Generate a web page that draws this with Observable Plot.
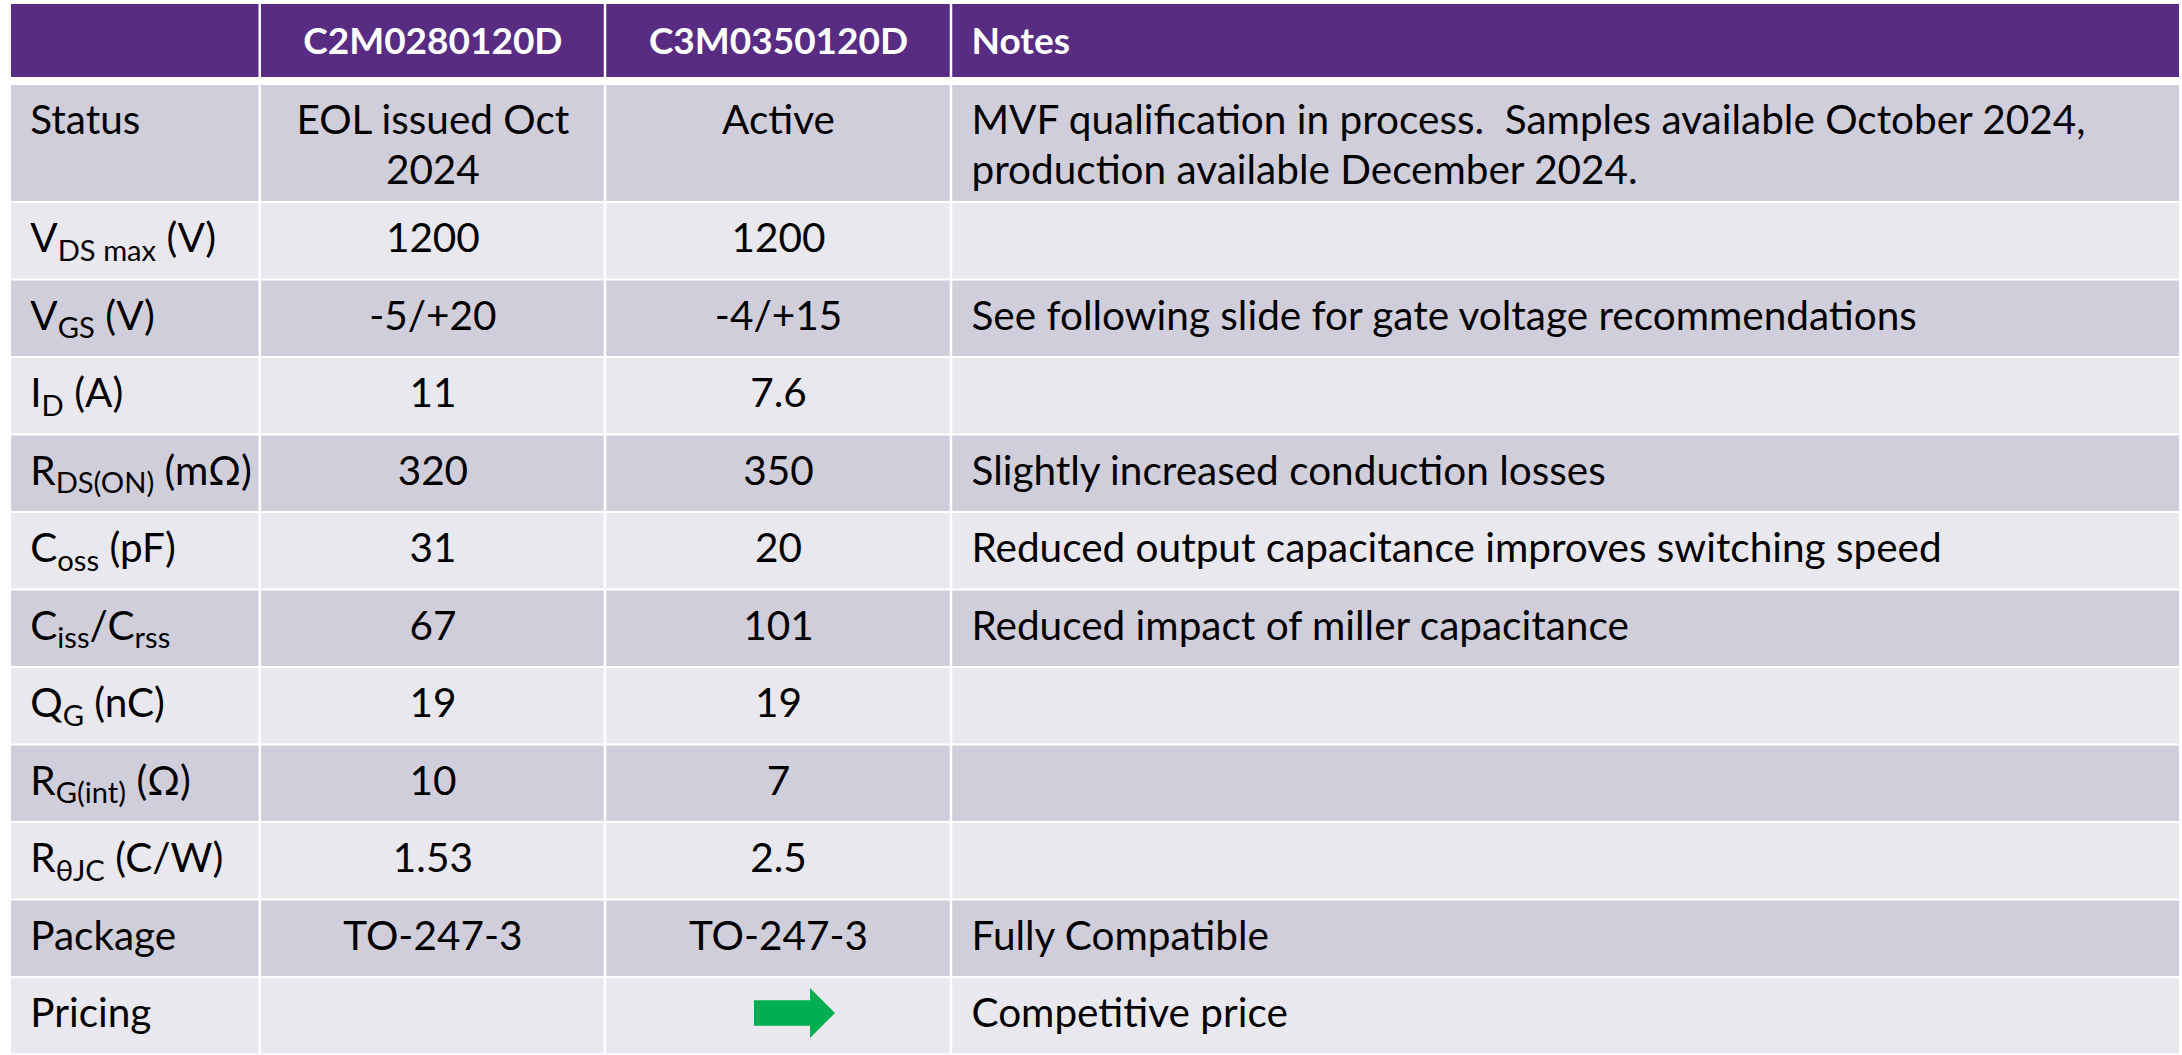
<!DOCTYPE html>
<html>
<head>
<meta charset="utf-8">
<script src="https://cdn.jsdelivr.net/npm/d3@7"></script>
<script src="https://cdn.jsdelivr.net/npm/@observablehq/plot@0.6"></script>
<style>
  html, body { margin: 0; padding: 0; background: #ffffff; overflow: hidden; }
  svg text { white-space: pre; }
</style>
</head>
<body>
<div id="chart"></div>
<script>
// ---------------- data ----------------
const columns = ["", "C2M0280120D", "C3M0350120D", "Notes"];
const parameters = [
  "Status",
  "V_{DS max} (V)",
  "V_{GS} (V)",
  "I_{D} (A)",
  "R_{DS(ON)} (mΩ)",
  "C_{oss} (pF)",
  "C_{iss}/C_{rss}",
  "Q_{G} (nC)",
  "R_{G(int)} (Ω)",
  "R_{θJC} (C/W)",
  "Package",
  "Pricing"
];
const c2mValues = ["EOL issued Oct\n2024", "1200", "-5/+20", "11", "320", "31", "67", "19", "10", "1.53", "TO-247-3", ""];
const c3mValues = ["Active", "1200", "-4/+15", "7.6", "350", "20", "101", "19", "7", "2.5", "TO-247-3", ""];
const notes = [
  "MVF qualification in process.  Samples available October 2024,\nproduction available December 2024.",
  "",
  "See following slide for gate voltage recommendations",
  "",
  "Slightly increased conduction losses",
  "Reduced output capacitance improves switching speed",
  "Reduced impact of miller capacitance",
  "",
  "",
  "",
  "Fully Compatible",
  "Competitive price"
];
const arrowRows = ["Pricing"]; // C3M0350120D pricing indicator (green arrow)

// ---------------- layout & style ----------------
const W = 2182, H = 1055;
const colEdges = [9.75, 259.75, 605, 951, 2180.25];
const colAlign = ["start", "middle", "middle", "start"];
const headerTop = 4, headerBottom = 77, bodyTop = 85;
const baseRow = 77.5, extraLine = 40.5, lineGap = 50;
const FS = 40.5, HFS = 37, PAD = 20, BASE = 48.5, HEADBASE = 53;
const SUB = 0.72, SUBDY = 8.5;
const FONT = "Lato";
const purple = "#572C82", darkRow = "#D1CEDB", lightRow = "#E9E8EE", arrowGreen = "#00B050";

const columnValues = [parameters, c2mValues, c3mValues, notes];
const nLines = (i) => Math.max(...columnValues.map(v => v[i].split("\n").length));
const rowTops = [];
{
  let t = bodyTop;
  parameters.forEach((p, i) => { rowTops.push(t); t += baseRow + (nLines(i) - 1) * extraLine; });
  rowTops.push(t);
}
const textX = (c) => colAlign[c] === "start" ? colEdges[c] + PAD : (colEdges[c] + colEdges[c + 1]) / 2;

const headerCells = columns.map((name, c) => ({name, c, x1: colEdges[c], x2: colEdges[c + 1]}));
const bodyCells = parameters.flatMap((p, r) => columns.map((_, c) => ({
  r, c,
  x1: colEdges[c], x2: colEdges[c + 1],
  y1: rowTops[r], y2: rowTops[r + 1],
  fill: r % 2 === 0 ? darkRow : lightRow,
  text: columnValues[c][r],
  lines: columnValues[c][r].split("\n").length
})));

const blockArrow = {
  draw(context, size) {
    const r = Math.sqrt(size / Math.PI);
    const hx = 0.383 * r, sh = 0.314 * r, hh = 0.617 * r;
    context.moveTo(-r, -sh);
    context.lineTo(hx, -sh);
    context.lineTo(hx, -hh);
    context.lineTo(r, 0);
    context.lineTo(hx, hh);
    context.lineTo(hx, sh);
    context.lineTo(-r, sh);
    context.closePath();
  }
};
const arrowCells = parameters
  .map((p, r) => ({p, r}))
  .filter(d => arrowRows.includes(d.p))
  .map(d => ({x: textX(2), y: rowTops[d.r] + BASE - 14}));

const textMarks = columns.map((_, c) => Plot.text(
  bodyCells.filter(d => d.c === c && d.text !== ""),
  {
    x: () => textX(c),
    y: d => d.y1 + BASE + (d.lines - 1) * lineGap,
    text: "text",
    textAnchor: colAlign[c],
    lineAnchor: "bottom",
    lineHeight: lineGap / FS,
    fontSize: FS,
    fontFamily: FONT,
    fill: "#000000"
  }
));

const headerMarks = columns.map((name, c) => Plot.text(
  headerCells.filter(d => d.c === c && d.name !== ""),
  {
    x: () => textX(c),
    y: () => HEADBASE,
    text: "name",
    textAnchor: colAlign[c],
    lineAnchor: "bottom",
    fontSize: HFS,
    fontWeight: "bold",
    fontFamily: FONT,
    fill: "#ffffff"
  }
));

const svg = Plot.plot({
  width: W,
  height: H,
  margin: 0,
  x: {type: "linear", domain: [0, W], range: [0, W], axis: null},
  y: {type: "linear", domain: [0, H], range: [0, H], axis: null},
  style: {background: "#ffffff", fontFamily: FONT},
  marks: [
    Plot.rect(headerCells, {x1: "x1", x2: "x2", y1: () => headerTop, y2: () => headerBottom, fill: purple, insetLeft: 1.25, insetRight: 1.25}),
    Plot.rect(bodyCells, {x1: "x1", x2: "x2", y1: "y1", y2: "y2", fill: "fill", insetLeft: 1.25, insetRight: 1.25, insetBottom: 2}),
    ...headerMarks,
    ...textMarks,
    Plot.dot(arrowCells, {x: "x", y: "y", r: 40.5, symbol: blockArrow, fill: arrowGreen, stroke: null, dx: 16})
  ]
});

// subscripts: rewrite "X_{sub} rest" into tspans
d3.select(svg).selectAll("text").each(function () {
  const raw = this.textContent;
  if (!raw.includes("_{")) return;
  const parts = raw.split(/_\{([^}]*)\}/);
  this.textContent = "";
  let shifted = false;
  parts.forEach((seg, k) => {
    const sub = k % 2 === 1;
    if (!seg) return;
    const ts = d3.select(this).append("tspan").text(seg);
    if (sub) { ts.attr("font-size", FS * SUB).attr("dy", SUBDY); shifted = true; }
    else if (shifted) { ts.attr("dy", -SUBDY); shifted = false; }
  });
});

document.getElementById("chart").appendChild(svg);
</script>
</body>
</html>
